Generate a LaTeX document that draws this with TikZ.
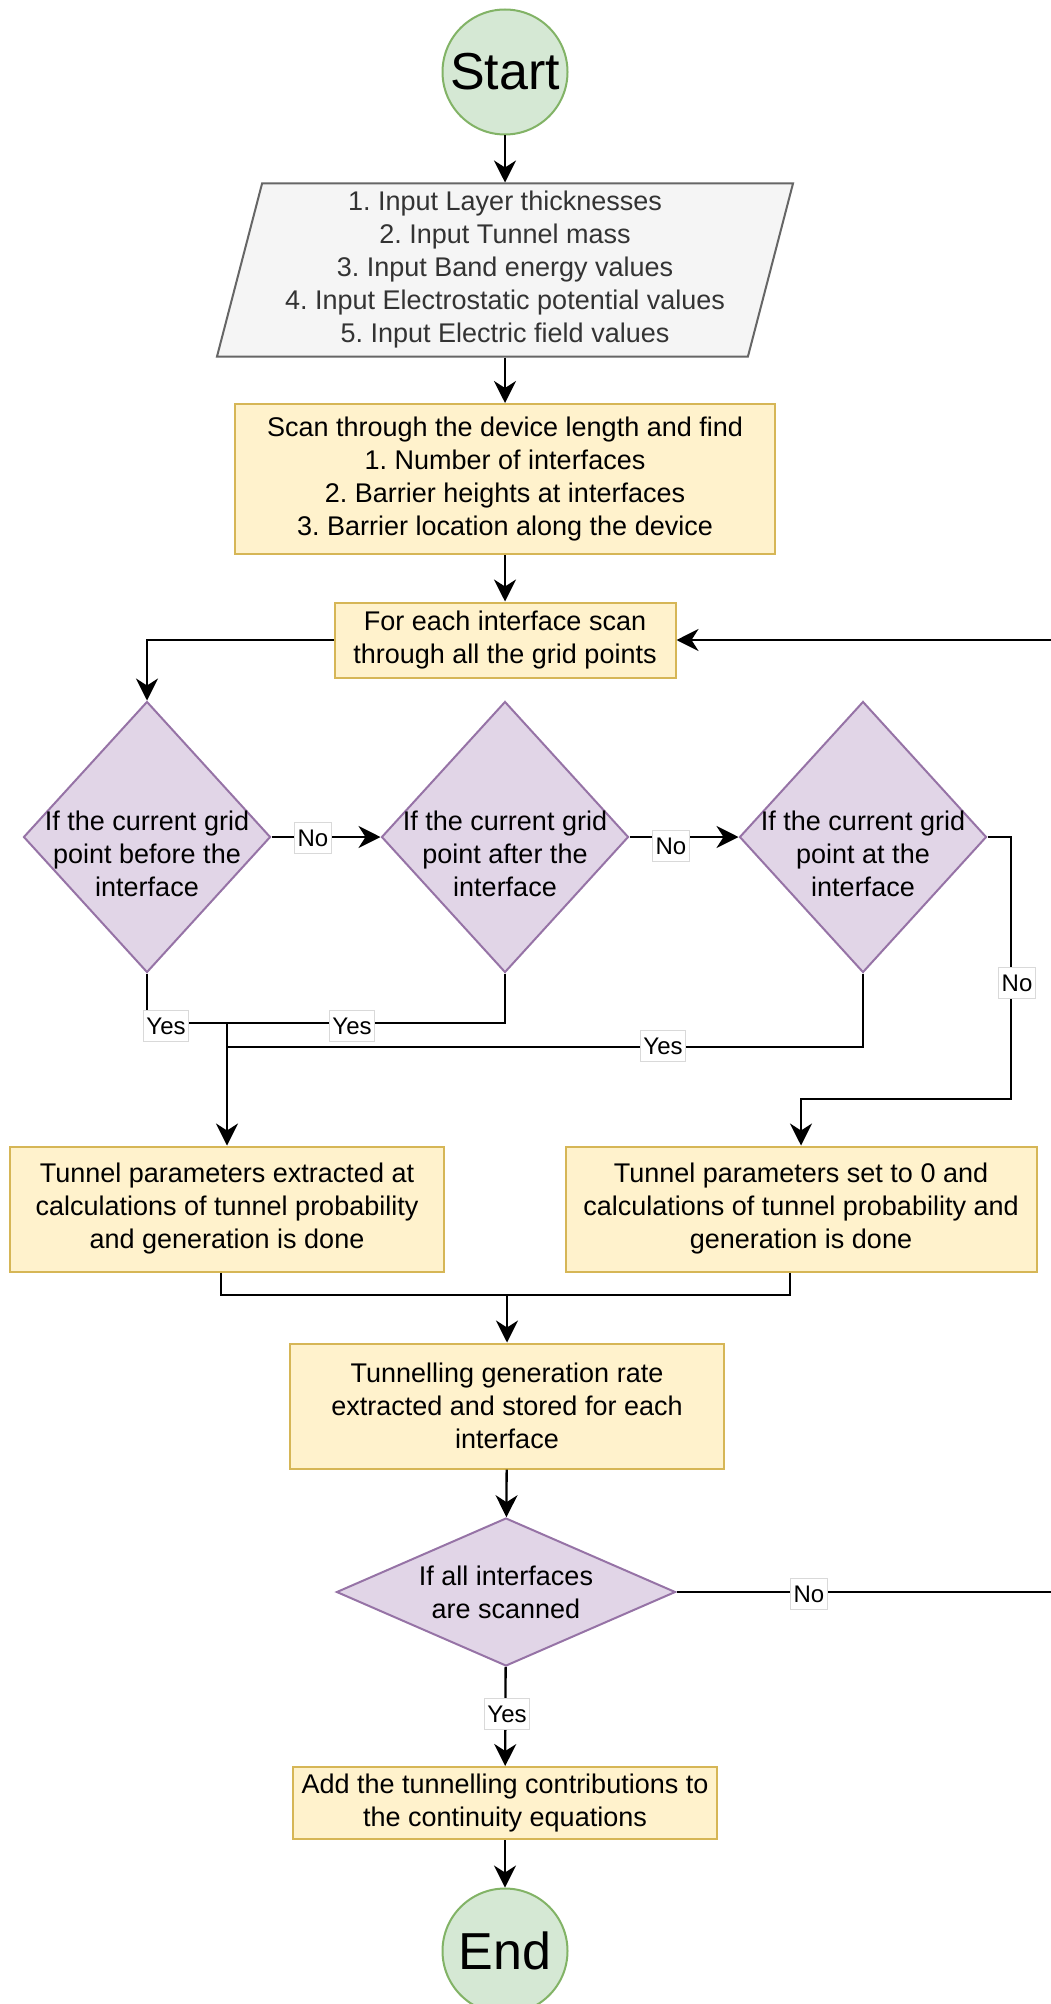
\documentclass[tikz,border=0pt]{standalone}
\usepackage{fontspec}
\setmainfont{Liberation Sans}
\usepackage{tikz}
\usetikzlibrary{shapes.geometric,arrows.meta,calc}
\frenchspacing

\definecolor{termfill}{HTML}{D5E8D4}
\definecolor{termline}{HTML}{82B366}
\definecolor{iofill}{HTML}{F5F5F5}
\definecolor{ioline}{HTML}{666666}
\definecolor{iotext}{HTML}{333333}
\definecolor{procfill}{HTML}{FFF2CC}
\definecolor{procline}{HTML}{D6B656}
\definecolor{decfill}{HTML}{E1D5E7}
\definecolor{decline}{HTML}{9673A6}

\newcommand{\flowfont}{\fontsize{27}{33}\selectfont}
\newcommand{\labfont}{\fontsize{24}{28}\selectfont}
\newcommand{\bigfont}{\fontsize{52}{60}\selectfont}

\begin{document}
\begin{tikzpicture}[x = 1pt, y = -1pt]
	\tikzstyle{every node} = [font = \flowfont, align = center, inner sep = 0pt]
	\tikzstyle{term} = [circle, draw = termline, fill = termfill, line width = 2pt, minimum size = 125pt, font = \bigfont]
	\tikzstyle{io} = [trapezium, trapezium left angle = 74, trapezium right angle = 106, trapezium stretches body, draw = ioline, fill = iofill, text = iotext, line width = 2pt, minimum width = 576pt, minimum height = 173pt]
	\tikzstyle{proc} = [rectangle, draw = procline, fill = procfill, line width = 2pt]
	\tikzstyle{dec} = [diamond, draw = decline, fill = decfill, line width = 2pt]
	\tikzstyle{lab} = [font = \labfont, fill = white, draw = black!15, line width = 0.8pt, inner xsep = 3pt, minimum height = 31pt]
	\tikzstyle{wire} = [line width = 2.3pt]
	\tikzstyle{arr} = [line width = 2.3pt, -{Stealth[length = 22pt, width = 22pt, inset = 7pt]}]
\useasboundingbox (0,0) rectangle (1051,2004);

\node[term] (1) at (505, 72) {Start};
\node[io] (2) at (505, 270) {1. Input Layer thicknesses\\2. Input Tunnel mass\\3. Input Band energy values\\4. Input Electrostatic potential values\\5. Input Electric field values};
\node[proc, minimum width = 540pt, minimum height = 150pt] (3) at (505, 479) {Scan through the device length and find\\1. Number of interfaces\\2. Barrier heights at interfaces\\3. Barrier location along the device};
\node[proc, minimum width = 341pt, minimum height = 75pt] (4) at (505, 640) {For each interface scan\\through all the grid points};
\node[dec, minimum width = 247pt, minimum height = 271pt, label = {[yshift = -17pt]center:{If the current grid\\point before the\\interface}}] (5) at (147, 837) {};
\node[dec, minimum width = 247pt, minimum height = 271pt, label = {[yshift = -17pt]center:{If the current grid\\point after the\\interface}}] (6) at (505, 837) {};
\node[dec, minimum width = 247pt, minimum height = 271pt, label = {[yshift = -17pt]center:{If the current grid\\point at the\\interface}}] (7) at (863, 837) {};
\node[proc, minimum width = 434pt, minimum height = 125pt] (8) at (227, 1209) {Tunnel parameters extracted at\\calculations of tunnel probability\\and generation is done};
\node[proc, minimum width = 471pt, minimum height = 125pt] (9) at (801, 1209) {Tunnel parameters set to 0 and\\calculations of tunnel probability and\\generation is done};
\node[proc, minimum width = 434pt, minimum height = 125pt] (10) at (507, 1406) {Tunnelling generation rate\\extracted and stored for each\\interface};
\node[dec, minimum width = 339pt, minimum height = 148pt, label = {center:{If all interfaces\\are scanned}}] (11) at (506, 1592) {};
\node[proc, minimum width = 424pt, minimum height = 72pt] (12) at (505, 1803) {Add the tunnelling contributions to\\the continuity equations};
\node[term] (13) at (505, 1951) {End};

\coordinate (j1) at (227, 1023);
\coordinate (j2) at (227, 1047);
\coordinate (k) at (1011, 1099);
\coordinate (m) at (507, 1295);
\coordinate (r1) at (1057, 1592);
\coordinate (r2) at (1057, 640);

	\path[draw, arr] (1) -- (2);
	\path[draw, arr] (2) -- (3);
	\path[draw, arr] (3) -- (4);
	\path[draw, arr] (4.west) -| (5.north);
	\path[draw, arr] (5.east) -- (6.west);
	\path[draw, arr] (6.east) -- (7.west);
	\path[draw, arr] (5.south) |- (j1) -- (8.north);
	\path[draw, wire] (6.south) |- (j1);
	\path[draw, wire] (7.south) |- (j2);
	\path[draw, arr] (7.east) -| (k) -| (9.north);
	\path[draw, arr] ($(8.south)+(-6,0)$) |- (m) -- (10.north);
	\path[draw, wire] ($(9.south)+(-11,0)$) |- (m);
	\path[draw, arr] (10) -- (11);
	\path[draw, arr] (11) -- (12);
	\path[draw, arr] (12) -- (13);
	\path[draw, arr] (11.east) -- (r1) -- (r2) -- (4.east);

\node[lab] (14) at (313, 838) {No};
\node[lab] (15) at (671, 846) {No};
\node[lab] (16) at (1017, 983) {No};
\node[lab] (17) at (166, 1026) {Yes};
\node[lab] (18) at (352, 1026) {Yes};
\node[lab] (19) at (663, 1046) {Yes};
\node[lab] (20) at (809, 1594) {No};
\node[lab] (21) at (507, 1714) {Yes};
\end{tikzpicture}
\end{document}
